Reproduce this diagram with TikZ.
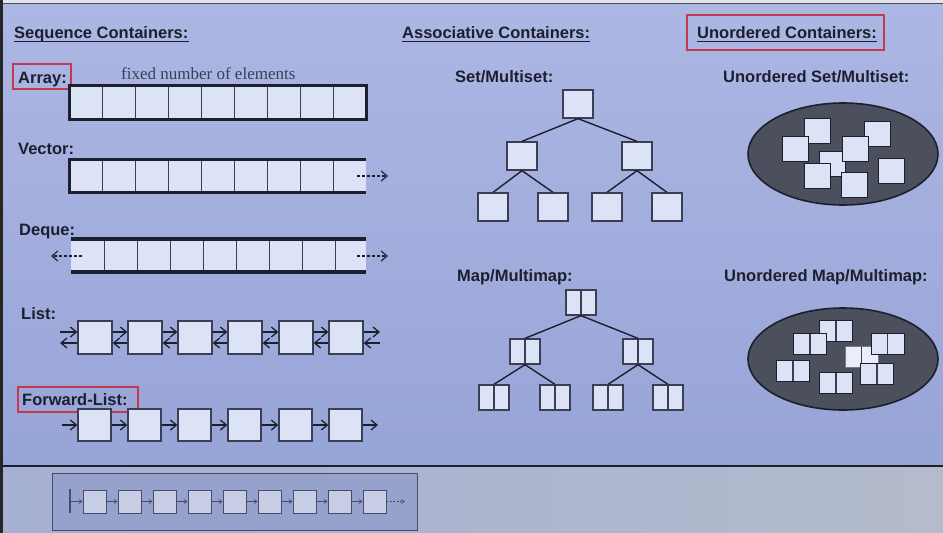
\documentclass[tikz,border=0pt]{standalone}
\usepackage{fontspec}
\setmainfont{Liberation Sans}
\newfontfamily\timesfont{Liberation Serif}
\usepackage{tikz}
\usetikzlibrary{arrows.meta}
\usepackage{xcolor}

\definecolor{slidetop}{HTML}{ADB7E4}
\definecolor{slidebot}{HTML}{97A4D6}
\definecolor{stripleft}{HTML}{A6B0D2}
\definecolor{stripright}{HTML}{B3BBCC}
\definecolor{ink}{HTML}{1C1F2E}
\definecolor{boxline}{HTML}{3A3F55}
\definecolor{cellfill}{HTML}{DDE3F6}
\definecolor{redmark}{HTML}{C23A4E}
\definecolor{blobfill}{HTML}{4C505D}
\definecolor{thumbfill}{HTML}{97A2CC}
\definecolor{thumbline}{HTML}{454C6C}
\definecolor{thumbbox}{HTML}{C6CDE5}
\definecolor{fixedtext}{HTML}{3A3F58}

\tikzset{
  >={Straight Barb[length=6pt,width=10pt]},
  lbl/.style={font=\fontsize{16.5}{18}\selectfont\bfseries, text=ink, inner sep=0pt, anchor=base west},
  thinline/.style={draw=boxline, line width=1pt},
  listbox/.style={draw=boxline, fill=cellfill, line width=1.3pt, inner sep=0pt, minimum width=34pt, minimum height=33pt},
  sqbox/.style={draw=boxline, fill=cellfill, line width=1.3pt, inner sep=0pt, minimum width=30pt, minimum height=28pt},
  pairbox/.style={draw=boxline, fill=cellfill, line width=1.3pt, inner sep=0pt, minimum width=30pt, minimum height=25pt,
    path picture={\draw[boxline, line width=1.3pt] (path picture bounding box.north) -- (path picture bounding box.south);}},
  blobsq/.style={draw=ink, fill=cellfill, line width=1pt, inner sep=0pt, minimum width=26pt, minimum height=25pt},
  blobpair/.style={pairbox, draw=ink, line width=1pt, minimum width=33pt, minimum height=21pt},
  arrow/.style={->, ink, line width=1.3pt},
  dasharrow/.style={->, ink, line width=1.1pt, dash pattern=on 3pt off 2pt},
  edge/.style={ink, line width=1.4pt},
  redbox/.style={draw=redmark, line width=2pt},
  tbox/.style={draw=thumbline, fill=thumbbox, line width=0.8pt, inner sep=0pt, minimum width=23pt, minimum height=23pt},
  tarrow/.style={-{Straight Barb[length=3pt,width=4pt]}, thumbline, line width=0.7pt}
}

\begin{document}
\begin{tikzpicture}[x=1pt,y=-1pt]
  \useasboundingbox (0,0) rectangle (943,533);
  % slide and strip below it
  \shade[top color=slidetop, bottom color=slidebot] (0,0) rectangle (943,466);
  \shade[left color=stripleft, right color=stripright] (0,466) rectangle (943,533);
  \fill[black!10] (0,0) rectangle (943,3);
  \draw[thumbline, line width=1.2pt] (0,3.5) -- (943,3.5);
  \draw[ink, line width=1.6pt] (0,466) -- (943,466);
  \fill[black!85] (0,0) rectangle (2.5,533);

  % headings
  \node[lbl] (seq) at (14,38) {Sequence Containers:};
  \draw[ink, line width=1.2pt] ([yshift=-3.5pt]seq.base west) -- ([yshift=-3.5pt]seq.base east);
  \node[lbl] (assoc) at (402,38) {Associative Containers:};
  \draw[ink, line width=1.2pt] ([yshift=-3.5pt]assoc.base west) -- ([yshift=-3.5pt]assoc.base east);
  \node[lbl] (unord) at (697,38) {Unordered Containers:};
  \draw[ink, line width=1.2pt] ([yshift=-3.5pt]unord.base west) -- ([yshift=-3.5pt]unord.base east);
  \draw[redbox] (687,15) rectangle (884,50);

  % array
  \node[lbl] (arr) at (18,83) {Array:};
  \draw[redbox] (13,64) rectangle (71,89);
  \node[font=\timesfont\fontsize{17}{19}\selectfont, text=fixedtext, inner sep=0pt, anchor=base west] (fixed) at (121,79) {fixed number of elements};
  \fill[cellfill] (69,85) rectangle (366,119);
  \foreach \x in {102,135,...,333} \draw[thinline] (\x,85) -- (\x,119);
  \draw[ink, line width=3pt] (69,85) rectangle (366,119);

  % vector
  \node[lbl] (vec) at (18,154) {Vector:};
  \fill[cellfill] (69,159) rectangle (366,192);
  \foreach \x in {102,135,...,333} \draw[thinline] (\x,159) -- (\x,192);
  \draw[ink, line width=3pt] (366,159) -- (69,159) -- (69,192) -- (366,192);
  \coordinate (vecend) at (357,176);
  \coordinate (vecgrow) at (388,176);
  \draw[dasharrow] (vecend) -- (vecgrow);

  % deque
  \node[lbl] (deq) at (19,235) {Deque:};
  \fill[cellfill] (71,240) rectangle (366,271);
  \foreach \x in {104,137,...,335} \draw[thinline] (\x,240) -- (\x,271);
  \draw[ink, line width=3.5pt] (71,239) -- (366,239);
  \draw[ink, line width=3.5pt] (71,272) -- (366,272);
  \coordinate (deqfront) at (82,256);
  \coordinate (deqleft) at (51,256);
  \coordinate (deqback) at (357,256);
  \coordinate (deqright) at (388,256);
  \draw[dasharrow] (deqfront) -- (deqleft);
  \draw[dasharrow] (deqback) -- (deqright);

  % list
  \node[lbl] (lst) at (21,319) {List:};
  \foreach \i/\x in {1/95,2/145,3/195,4/245,5/296,6/346}
    \node[listbox] (l\i) at (\x,337.5) {};
  \foreach \i/\j in {1/2,2/3,3/4,4/5,5/6} {
    \draw[arrow] ([yshift=5.5pt]l\i.east) -- ([yshift=5.5pt]l\j.west);
    \draw[arrow] ([yshift=-5.5pt]l\j.west) -- ([yshift=-5.5pt]l\i.east);
  }
  \coordinate (lhead) at (60,337.5);
  \coordinate (ltail) at (380,337.5);
  \draw[arrow] ([yshift=5.5pt]lhead) -- ([yshift=5.5pt]l1.west);
  \draw[arrow] ([yshift=-5.5pt]l1.west) -- ([yshift=-5.5pt]lhead);
  \draw[arrow] ([yshift=5.5pt]l6.east) -- ([yshift=5.5pt]ltail);
  \draw[arrow] ([yshift=-5.5pt]ltail) -- ([yshift=-5.5pt]l6.east);

  % forward list
  \node[lbl] (fwd) at (22,405) {Forward-List:};
  \draw[redbox] (18,387) rectangle (138,412);
  \foreach \i/\x in {1/94.5,2/144.5,3/194.5,4/244.5,5/295.5,6/345.5}
    \node[listbox, minimum width=33pt, minimum height=32pt] (f\i) at (\x,425) {};
  \foreach \i/\j in {1/2,2/3,3/4,4/5,5/6}
    \draw[arrow] (f\i.east) -- (f\j.west);
  \coordinate (fhead) at (62,425);
  \coordinate (ftail) at (378,425);
  \draw[arrow] (fhead) -- (f1.west);
  \draw[arrow] (f6.east) -- (ftail);

  % set tree
  \node[lbl] (setlbl) at (455,82) {Set/Multiset:};
  \node[sqbox] (s0) at (578,104) {};
  \node[sqbox] (s1) at (522,156) {};
  \node[sqbox] (s2) at (637,156) {};
  \node[sqbox] (s3) at (493,207) {};
  \node[sqbox] (s4) at (553,207) {};
  \node[sqbox] (s5) at (607,207) {};
  \node[sqbox] (s6) at (667,207) {};
  \draw[edge] (s0.south) -- (s1.north);
  \draw[edge] (s0.south) -- (s2.north);
  \draw[edge] (s1.south) -- (s3.north);
  \draw[edge] (s1.south) -- (s4.north);
  \draw[edge] (s2.south) -- (s5.north);
  \draw[edge] (s2.south) -- (s6.north);

  % map tree
  \node[lbl] (maplbl) at (457,281) {Map/Multimap:};
  \node[pairbox] (m0) at (581,302.5) {};
  \node[pairbox] (m1) at (525,351.5) {};
  \node[pairbox] (m2) at (638,351.5) {};
  \node[pairbox] (m3) at (494,397.5) {};
  \node[pairbox] (m4) at (555,397.5) {};
  \node[pairbox] (m5) at (608,397.5) {};
  \node[pairbox] (m6) at (668,397.5) {};
  \draw[edge] (m0.south) -- (m1.north);
  \draw[edge] (m0.south) -- (m2.north);
  \draw[edge] (m1.south) -- (m3.north);
  \draw[edge] (m1.south) -- (m4.north);
  \draw[edge] (m2.south) -- (m5.north);
  \draw[edge] (m2.south) -- (m6.north);

  % unordered set
  \node[lbl] (usetlbl) at (723,82) {Unordered Set/Multiset:};
  \filldraw[fill=blobfill, draw=ink, line width=1.6pt] (843,154) ellipse [x radius=95, y radius=51];
  \node[blobsq] (u1) at (817.5,130.5) {};
  \node[blobsq] (u2) at (877,134) {};
  \node[blobsq] (u3) at (832,163.5) {};
  \node[blobsq] (u4) at (795,148.5) {};
  \node[blobsq] (u5) at (855,148.5) {};
  \node[blobsq] (u6) at (817,176) {};
  \node[blobsq] (u7) at (891,170.5) {};
  \node[blobsq] (u8) at (854.5,185) {};

  % unordered map
  \node[lbl] (umaplbl) at (724,281) {Unordered Map/Multimap:};
  \filldraw[fill=blobfill, draw=ink, line width=1.6pt] (843,359) ellipse [x radius=95, y radius=51];
  \node[blobpair] (p2) at (836,330.5) {};
  \node[blobpair] (p1) at (810,343.5) {};
  \node[blobpair, fill=cellfill!60!white, draw=boxline!70] (p4) at (861.5,357) {};
  \node[blobpair] (p3) at (887.5,343.5) {};
  \node[blobpair] (p5) at (793,370.5) {};
  \node[blobpair] (p6) at (836,382.5) {};
  \node[blobpair] (p7) at (877,373.5) {};

  % thumbnail below the slide
  \filldraw[fill=thumbfill, draw=thumbline, line width=1pt] (52,473) rectangle (417,530);
  \draw[thumbline, line width=2.5pt] (70,489) -- (70,513);
  \coordinate (tbar) at (70,501.5);
  \foreach \i/\x in {1/94.5,2/129.5,3/164.5,4/199.5,5/234.5,6/269.5,7/304.5,8/339.5,9/374.5}
    \node[tbox] (t\i) at (\x,501.5) {};
  \draw[tarrow] (tbar) -- (t1.west);
  \foreach \i/\j in {1/2,2/3,3/4,4/5,5/6,6/7,7/8,8/9}
    \draw[tarrow] (t\i.east) -- (t\j.west);
  \coordinate (tend) at (405,501.5);
  \draw[tarrow, dash pattern=on 2pt off 1.5pt] (t9.east) -- (tend);
\end{tikzpicture}
\end{document}
